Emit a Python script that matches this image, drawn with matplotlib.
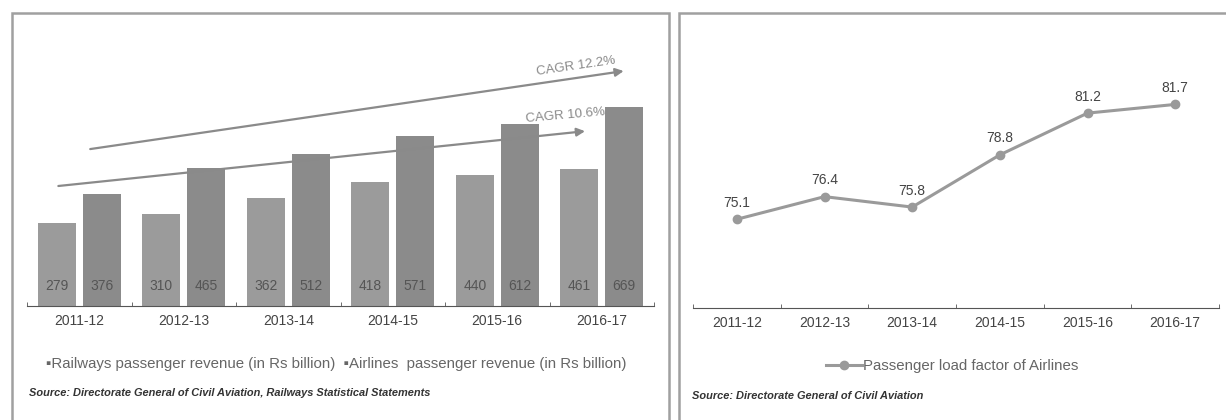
import matplotlib
matplotlib.use("Agg")
import matplotlib.pyplot as plt
import numpy as np
from matplotlib.patches import Rectangle

plt.rcParams['font.family'] = ['Liberation Sans', 'DejaVu Sans']

# data
years = ['2011-12', '2012-13', '2013-14', '2014-15', '2015-16', '2016-17']
railways_rev = [279, 310, 362, 418, 440, 461]
airlines_rev = [376, 465, 512, 571, 612, 669]
load_factor = [75.1, 76.4, 75.8, 78.8, 81.2, 81.7]
cagr_labels = ['CAGR 12.2%', 'CAGR 10.6%']

txt = '#444444'
rail_c = '#9b9b9b'
air_c = '#8b8b8b'

fig = plt.figure(figsize=(12.26, 4.2), dpi=100)

# panel frames
fig.patches.append(Rectangle((12 / 1226, -0.1), 657 / 1226, 1.1 - 13 / 420,
                             transform=fig.transFigure, fill=False,
                             edgecolor='#a0a0a0', lw=1.8))
fig.patches.append(Rectangle((679 / 1226, -0.1), 0.5, 1.1 - 13 / 420,
                             transform=fig.transFigure, fill=False,
                             edgecolor='#a0a0a0', lw=1.8))

# ---- left: revenue bars ----
ax1 = fig.add_axes([27 / 1226, 114 / 420, 627 / 1226, 268 / 420])
x = np.arange(len(years))
w = 0.36
ax1.bar(x - 0.215, railways_rev, w, color=rail_c)
ax1.bar(x + 0.215, airlines_rev, w, color=air_c)
for i in range(len(years)):
    ax1.text(x[i] - 0.215, 68, str(railways_rev[i]), ha='center', va='center',
             fontsize=10, color='#555555')
    ax1.text(x[i] + 0.215, 68, str(airlines_rev[i]), ha='center', va='center',
             fontsize=10, color='#555555')
ax1.set_xlim(-0.5, len(years) - 0.5)
ax1.set_ylim(0, 900)
for s in ['top', 'right', 'left']:
    ax1.spines[s].set_visible(False)
ax1.spines['bottom'].set_color('#555555')
ax1.set_yticks([])
ax1.set_xticks(x)
ax1.set_xticklabels(years, fontsize=10, color=txt)
ax1.tick_params(axis='x', length=0, pad=6)
ax1.set_xticks(np.arange(-0.5, len(years)), minor=True)
ax1.tick_params(axis='x', which='minor', length=3, direction='in', color='#555555')

# CAGR arrows
arrows = [((0.105, 527), (5.21, 789), (4.75, 805), 8.3),
          ((-0.2, 403), (4.84, 587), (4.65, 640), 5.0)]
for (start, end, lab, rot), label in zip(arrows, cagr_labels):
    ax1.annotate('', xy=end, xytext=start,
                 arrowprops=dict(arrowstyle='-|>', color='#8a8a8a', lw=1.6,
                                 mutation_scale=12, shrinkA=0, shrinkB=0),
                 annotation_clip=False)
    ax1.text(lab[0], lab[1], label, ha='center', va='center', rotation=rot,
             fontsize=9.5, color='#8a8a8a', clip_on=False)

fig.text(336 / 1226, 1 - 364 / 420,
         '\u25aaRailways passenger revenue (in Rs billion)  '
         '\u25aaAirlines  passenger revenue (in Rs billion)',
         ha='center', va='center', fontsize=10.8, color='#666666')
fig.text(29 / 1226, 1 - 393 / 420,
         'Source: Directorate General of Civil Aviation, Railways Statistical Statements',
         ha='left', va='center', fontsize=7.9, color='#333333',
         fontweight='bold', fontstyle='italic')

# ---- right: load factor line ----
ax2 = fig.add_axes([693 / 1226, 112 / 420, 526 / 1226, 243.6 / 420])
ax2.plot(x, load_factor, color='#9a9a9a', lw=2.2, marker='o', ms=6,
         label='Passenger load factor of Airlines')
for i, v in enumerate(load_factor):
    ax2.text(x[i], v + 0.95, f'{v}', ha='center', va='center',
             fontsize=10, color=txt)
ax2.set_xlim(-0.5, len(years) - 0.5)
ax2.set_ylim(70, 84)
for s in ['top', 'right', 'left']:
    ax2.spines[s].set_visible(False)
ax2.spines['bottom'].set_color('#555555')
ax2.set_yticks([])
ax2.set_xticks(x)
ax2.set_xticklabels(years, fontsize=10, color=txt)
ax2.tick_params(axis='x', length=0, pad=6)
ax2.set_xticks(np.arange(-0.5, len(years)), minor=True)
ax2.tick_params(axis='x', which='minor', length=3, direction='in', color='#555555')

fig.legend(handles=ax2.get_lines(), loc='center',
           bbox_to_anchor=(952 / 1226, 1 - 366 / 420), frameon=False,
           fontsize=10.8, labelcolor='#666666', handlelength=2.4,
           handletextpad=0.1)
fig.text(692 / 1226, 1 - 396 / 420, 'Source: Directorate General of Civil Aviation',
         ha='left', va='center', fontsize=7.9, color='#333333',
         fontweight='bold', fontstyle='italic')

fig.savefig('out.png', dpi=100)
